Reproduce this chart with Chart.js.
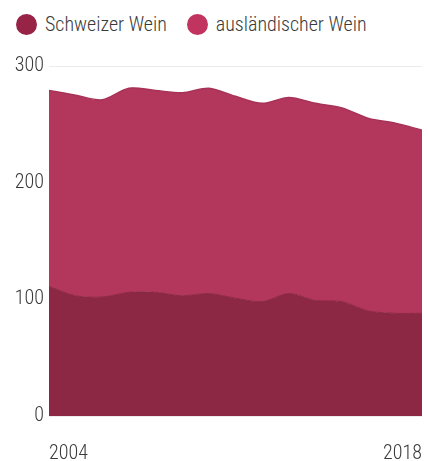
<!DOCTYPE html>
<html>
<head>
<meta charset="utf-8">
<script src="https://cdn.jsdelivr.net/npm/chart.js@4/dist/chart.umd.min.js"></script>
<style>
  html, body { margin: 0; padding: 0; background: #fff; overflow: hidden; }
  #wrap { position: relative; width: 428px; height: 461px; }
  #legend { position: absolute; left: 16px; top: 12px; display: flex; align-items: center;
            font-family: 'Roboto Condensed', 'Roboto', sans-serif; font-weight: 300;
            font-size: 20px; color: #3a3a3a; white-space: nowrap; }
  .item { display: flex; align-items: center; margin-right: 20px; }
  .dot { width: 21px; height: 21px; border-radius: 50%; margin-right: 8px; }
  canvas { position: absolute; left: 0; top: 0; }
</style>
</head>
<body>
<div id="wrap">
  <div id="legend"></div>
  <canvas id="c" width="428" height="461"></canvas>
</div>
<script>
const years = ['2004','2005','2006','2007','2008','2009','2010','2011','2012','2013','2014','2015','2016','2017','2018'];
const seriesNames = ['Schweizer Wein', 'ausländischer Wein'];
const schweizerWein = [111, 103, 102, 106, 106, 103, 105, 101, 98, 105, 99, 98, 90, 88, 88];
const auslaendischerWein = [168, 172, 169, 175, 173, 174, 176, 173, 170, 168, 169, 166, 165, 163, 157];
const yTicks = [0, 100, 200, 300];

const areaColors = ['#8c2843', '#b3375d'];
const legendColors = ['#972347', '#c1345f'];
const FONT = "'Roboto Condensed', 'Roboto', sans-serif";

const legend = document.getElementById('legend');
seriesNames.forEach((n, i) => {
  const it = document.createElement('div'); it.className = 'item';
  const d = document.createElement('div'); d.className = 'dot'; d.style.background = legendColors[i];
  const t = document.createElement('span'); t.textContent = n;
  it.appendChild(d); it.appendChild(t); legend.appendChild(it);
});

new Chart(document.getElementById('c'), {
  type: 'line',
  data: {
    labels: years,
    datasets: [
      { label: seriesNames[0], data: schweizerWein, fill: 'origin', backgroundColor: areaColors[0],
        borderColor: areaColors[0], borderWidth: 1, pointRadius: 0, tension: 0.3 },
      { label: seriesNames[1], data: auslaendischerWein, fill: '-1', backgroundColor: areaColors[1],
        borderColor: '#a83257', borderWidth: 1.5, pointRadius: 0, tension: 0.3 }
    ]
  },
  options: {
    responsive: false,
    animation: false,
    layout: { padding: { top: 66, right: 6, left: 0, bottom: 0 } },
    plugins: { legend: { display: false }, tooltip: { enabled: false } },
    scales: {
      x: {
        grid: { display: false },
        border: { display: false },
        afterFit: (s) => { s.height = 45; s.paddingRight = 0; s.paddingLeft = 0; },
        ticks: {
          autoSkip: false, maxRotation: 0, align: 'inner', padding: 20,
          color: '#3a3a3a', font: { family: FONT, weight: 300, size: 20, lineHeight: 1 },
          callback: function(v, i) { return (i === 0 || i === years.length - 1) ? years[i] : ''; }
        }
      },
      y: {
        stacked: true, min: 0, max: 300,
        afterFit: (s) => { s.width = 49; },
        afterBuildTicks: (s) => { s.ticks = yTicks.map(v => ({ value: v })); },
        grid: { color: '#ececec', drawTicks: false, lineWidth: 1 },
        border: { display: false },
        ticks: { padding: 5, color: '#3a3a3a', font: { family: FONT, weight: 300, size: 20 } }
      }
    }
  }
});
</script>
</body>
</html>
